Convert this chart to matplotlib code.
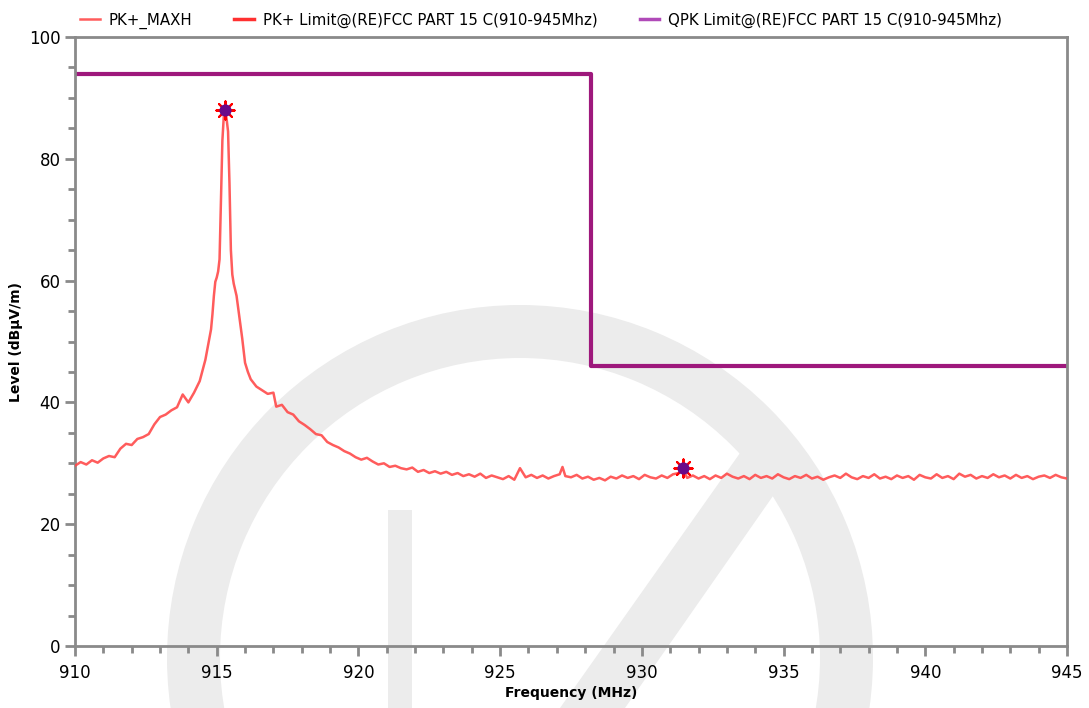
import numpy as np
import matplotlib
matplotlib.use('Agg')
import matplotlib.pyplot as plt
from matplotlib.patches import Wedge, Polygon
from matplotlib.ticker import MultipleLocator

# ---------------------------------------------------------------------------
# DATA
# ---------------------------------------------------------------------------
freq = [910.0, 910.2, 910.4, 910.6, 910.8, 911.0, 911.2, 911.4, 911.6, 911.8,
        912.0, 912.2, 912.4, 912.6, 912.8, 913.0, 913.2, 913.4, 913.6, 913.8,
        914.0, 914.2, 914.4, 914.6, 914.8, 914.85, 914.9, 914.95, 915.0, 915.05,
        915.1, 915.15, 915.2, 915.25, 915.3, 915.35, 915.4, 915.45, 915.5, 915.55,
        915.6, 915.7, 915.8, 915.9, 916.0, 916.1, 916.2, 916.4, 916.6, 916.8,
        917.0, 917.1, 917.3, 917.5, 917.7, 917.9, 918.1, 918.3, 918.5, 918.7,
        918.9, 919.1, 919.3, 919.5, 919.7, 919.9, 920.1, 920.3, 920.5, 920.7,
        920.9, 921.1, 921.3, 921.5, 921.7, 921.9, 922.1, 922.3, 922.5, 922.7,
        922.9, 923.1, 923.3, 923.5, 923.7, 923.9, 924.1, 924.3, 924.5, 924.7,
        924.9, 925.1, 925.3, 925.5, 925.7, 925.9, 926.1, 926.3, 926.5, 926.7,
        926.9, 927.1, 927.2, 927.3, 927.5, 927.7, 927.9, 928.1, 928.3, 928.5,
        928.7, 928.9, 929.1, 929.3, 929.5, 929.7, 929.9, 930.1, 930.3, 930.5,
        930.7, 930.9, 931.1, 931.3, 931.45, 931.6, 931.8, 932.0, 932.2, 932.4,
        932.6, 932.8, 933.0, 933.2, 933.4, 933.6, 933.8, 934.0, 934.2, 934.4,
        934.6, 934.8, 935.0, 935.2, 935.4, 935.6, 935.8, 936.0, 936.2, 936.4,
        936.6, 936.8, 937.0, 937.2, 937.4, 937.6, 937.8, 938.0, 938.2, 938.4,
        938.6, 938.8, 939.0, 939.2, 939.4, 939.6, 939.8, 940.0, 940.2, 940.4,
        940.6, 940.8, 941.0, 941.2, 941.4, 941.6, 941.8, 942.0, 942.2, 942.4,
        942.6, 942.8, 943.0, 943.2, 943.4, 943.6, 943.8, 944.0, 944.2, 944.4,
        944.6, 944.8, 945.0]
level = [29.6, 30.2, 29.8, 30.5, 30.1, 30.8, 31.2, 31.0, 32.4, 33.2,
         33.0, 34.0, 34.3, 34.8, 36.4, 37.6, 38.0, 38.7, 39.2, 41.3,
         40.0, 41.6, 43.5, 47.0, 52.0, 54.5, 57.5, 59.8, 60.5, 61.5,
         63.5, 73.0, 83.0, 87.0, 88.0, 86.5, 84.5, 76.0, 65.0, 61.0,
         59.5, 57.5, 54.0, 50.5, 46.5, 45.0, 43.8, 42.6, 42.0, 41.4,
         41.6, 39.3, 39.6, 38.4, 38.0, 36.9, 36.3, 35.6, 34.8, 34.6,
         33.5, 33.0, 32.6, 32.0, 31.6, 31.0, 30.6, 30.9, 30.3, 29.8,
         30.0, 29.4, 29.6, 29.2, 29.0, 29.3, 28.6, 28.9, 28.4, 28.7,
         28.3, 28.6, 28.1, 28.4, 27.9, 28.2, 27.8, 28.3, 27.6, 28.0,
         27.7, 27.4, 27.9, 27.3, 29.2, 27.7, 28.1, 27.6, 28.0, 27.5,
         27.9, 28.2, 29.4, 27.9, 27.7, 28.1, 27.5, 27.8, 27.3, 27.6,
         27.2, 27.8, 27.5, 28.0, 27.6, 27.9, 27.4, 28.1, 27.7, 27.5,
         28.0, 27.6, 28.2, 28.4, 29.0, 27.6, 28.0, 27.5, 27.9, 27.4,
         28.0, 27.6, 28.3, 27.8, 27.5, 27.9, 27.4, 28.1, 27.6, 27.9,
         27.5, 28.2, 27.7, 27.4, 27.9, 27.6, 28.1, 27.5, 27.8, 27.3,
         27.7, 28.0, 27.6, 28.3, 27.7, 27.4, 27.9, 27.6, 28.2, 27.5,
         27.8, 27.4, 28.0, 27.6, 27.9, 27.3, 28.1, 27.7, 27.5, 28.2,
         27.6, 27.9, 27.4, 28.3, 27.8, 28.1, 27.5, 27.9, 27.6, 28.2,
         27.7, 28.0, 27.5, 28.1, 27.6, 27.9, 27.4, 27.8, 28.0, 27.6,
         28.1, 27.7, 27.5]

# QPK limit (step at band edge)
limit_freq = [910.0, 928.2, 928.2, 945.0]
limit_level = [94.0, 94.0, 46.0, 46.0]

# marked peaks
marker_freq = [915.3, 931.45]
marker_level = [88.0, 29.3]

x_ticks = [910, 915, 920, 925, 930, 935, 940, 945]
y_ticks = [0, 20, 40, 60, 80, 100]

TRACE_C = '#ff4a4a'
LIMIT_PK_C = '#ff3030'
LIMIT_QPK_C = '#9e187c'
AXIS_C = '#8a8a8a'

# ---------------------------------------------------------------------------
# FIGURE
# ---------------------------------------------------------------------------
W, H = 1089, 708
fig = plt.figure(figsize=(W / 100, H / 100), dpi=100, facecolor='white')

# watermark layer (pixel coordinates, whole figure)
bg = fig.add_axes([0, 0, 1, 1], zorder=0)
bg.set_xlim(0, W); bg.set_ylim(H, 0); bg.axis('off')
wm = '#ececec'
bg.add_patch(Wedge((520, 658), 353, 0, 360, width=53, facecolor=wm, edgecolor='none'))
bg.add_patch(Polygon([[388, 510], [412, 510], [412, 708], [388, 708]], closed=True, facecolor=wm, edgecolor='none'))
bg.add_patch(Polygon([[560, 708], [740, 453], [803, 453], [625, 708]], closed=True, facecolor=wm, edgecolor='none'))

ax = fig.add_axes([75 / W, 1 - 646 / H, (1067 - 75) / W, (646 - 37) / H], zorder=1)
ax.set_facecolor('none')

ax.plot(freq, level, color=TRACE_C, lw=1.8, alpha=0.9, label='PK+_MAXH', zorder=3)
ax.plot([], [], color=LIMIT_PK_C, lw=2.5, label='PK+ Limit@(RE)FCC PART 15 C(910-945Mhz)')
ax.plot(limit_freq, limit_level, color=LIMIT_QPK_C, lw=3, zorder=2)
ax.plot([], [], color='#b04ab8', lw=2.5, label='QPK Limit@(RE)FCC PART 15 C(910-945Mhz)')

ax.scatter(marker_freq, marker_level, marker=(8, 2, 0), s=170, color='red', lw=1.5, zorder=4)
ax.scatter(marker_freq, marker_level, marker='o', s=60, color='#6a0a8a', zorder=5)

ax.set_xlim(910, 945)
ax.set_ylim(0, 100)
ax.set_xticks(x_ticks)
ax.set_yticks(y_ticks)
ax.xaxis.set_minor_locator(MultipleLocator(1))
ax.yaxis.set_minor_locator(MultipleLocator(5))
ax.tick_params(which='both', direction='out', color=AXIS_C, width=2, labelsize=12)
ax.tick_params(which='major', length=7)
ax.tick_params(which='minor', length=5)
ax.tick_params(axis='x', pad=6)
for sp in ax.spines.values():
    sp.set_color(AXIS_C); sp.set_linewidth(2)

ax.set_xlabel('Frequency (MHz)', fontsize=10, fontweight='bold', labelpad=3)
ax.set_ylabel('Level (dBµV/m)', fontsize=10, fontweight='bold', labelpad=4)

ax.legend(loc='lower center', bbox_to_anchor=(0.47, 1.0), ncol=3, frameon=False,
          fontsize=10.8, handlelength=1.3, handletextpad=0.6, columnspacing=2.8,
          borderaxespad=0.15)

fig.savefig('out.png', dpi=100, facecolor='white')
